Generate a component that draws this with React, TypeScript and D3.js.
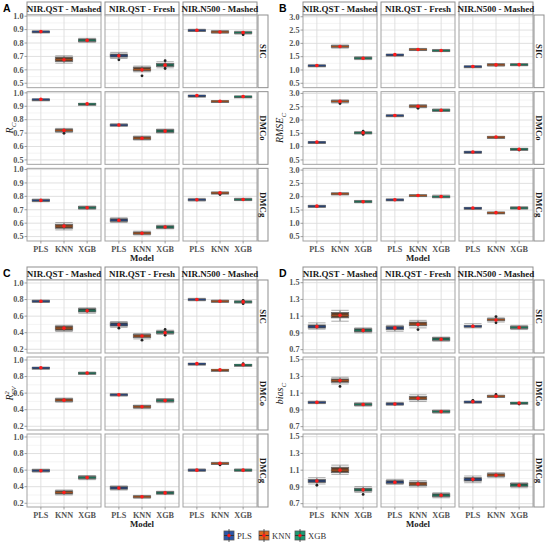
import React from 'react'
import * as d3 from 'd3'

const facets = ['NIR.QST - Mashed', 'NIR.QST - Fresh', 'NIR.N500 - Mashed']
const traits = ['SIC', 'DMCo', 'DMCg']
const models = ['PLS', 'KNN', 'XGB']
const modelColors = ['#2b55a8', '#e0661c', '#1b9a72']

// box stats: [lo, q1, median, q3, hi, mean], ordered trait -> facet -> model
const rcBoxes = [
  [
    [[0.878, 0.881, 0.885, 0.889, 0.892, 0.885], [0.65, 0.662, 0.676, 0.695, 0.705, 0.675], [0.805, 0.81, 0.82, 0.83, 0.835, 0.82]],
    [[0.685, 0.695, 0.705, 0.718, 0.73, 0.705], [0.585, 0.592, 0.602, 0.62, 0.628, 0.6], [0.615, 0.625, 0.637, 0.648, 0.66, 0.635]],
    [[0.888, 0.891, 0.895, 0.9, 0.903, 0.895], [0.872, 0.876, 0.882, 0.89, 0.893, 0.882], [0.866, 0.872, 0.878, 0.884, 0.888, 0.878]],
  ],
  [
    [[0.948, 0.95, 0.952, 0.954, 0.956, 0.952], [0.705, 0.71, 0.72, 0.73, 0.735, 0.72], [0.913, 0.915, 0.918, 0.921, 0.923, 0.918]],
    [[0.752, 0.755, 0.76, 0.766, 0.77, 0.76], [0.648, 0.652, 0.662, 0.673, 0.678, 0.662], [0.7, 0.705, 0.715, 0.726, 0.73, 0.715]],
    [[0.976, 0.978, 0.98, 0.982, 0.984, 0.98], [0.934, 0.936, 0.938, 0.941, 0.943, 0.938], [0.968, 0.97, 0.973, 0.976, 0.978, 0.973]],
  ],
  [
    [[0.76, 0.764, 0.77, 0.776, 0.78, 0.77], [0.55, 0.562, 0.578, 0.592, 0.605, 0.578], [0.703, 0.707, 0.715, 0.724, 0.728, 0.715]],
    [[0.605, 0.612, 0.622, 0.633, 0.64, 0.622], [0.512, 0.517, 0.525, 0.534, 0.54, 0.525], [0.558, 0.562, 0.571, 0.58, 0.585, 0.571]],
    [[0.765, 0.769, 0.775, 0.781, 0.785, 0.775], [0.818, 0.821, 0.826, 0.831, 0.834, 0.826], [0.768, 0.771, 0.776, 0.783, 0.786, 0.776]],
  ],
]
// [trait, facet, model, value]
const rcOutliers = [[0, 1, 0, 0.675], [0, 1, 1, 0.555], [0, 1, 2, 0.61], [0, 1, 2, 0.668], [0, 2, 2, 0.862], [1, 0, 1, 0.698], [2, 2, 1, 0.814]]

const rmseBoxes = [
  [
    [[1.14, 1.155, 1.17, 1.185, 1.2, 1.17], [1.82, 1.85, 1.88, 1.92, 1.94, 1.88], [1.39, 1.41, 1.44, 1.48, 1.5, 1.44]],
    [[1.55, 1.56, 1.575, 1.59, 1.6, 1.575], [1.73, 1.745, 1.77, 1.8, 1.81, 1.77], [1.69, 1.705, 1.73, 1.76, 1.77, 1.73]],
    [[1.11, 1.12, 1.135, 1.15, 1.16, 1.13], [1.14, 1.16, 1.19, 1.23, 1.24, 1.19], [1.16, 1.175, 1.2, 1.23, 1.24, 1.2]],
  ],
  [
    [[1.15, 1.16, 1.17, 1.185, 1.19, 1.17], [2.64, 2.67, 2.7, 2.74, 2.76, 2.7], [1.48, 1.5, 1.52, 1.55, 1.57, 1.52]],
    [[2.15, 2.16, 2.175, 2.19, 2.2, 2.17], [2.46, 2.48, 2.52, 2.56, 2.58, 2.52], [2.32, 2.34, 2.37, 2.4, 2.42, 2.37]],
    [[0.77, 0.785, 0.8, 0.82, 0.83, 0.8], [1.32, 1.335, 1.36, 1.38, 1.39, 1.36], [0.88, 0.895, 0.91, 0.93, 0.94, 0.9]],
  ],
  [
    [[1.61, 1.625, 1.645, 1.67, 1.68, 1.645], [2.07, 2.09, 2.11, 2.14, 2.15, 2.11], [1.77, 1.785, 1.81, 1.85, 1.86, 1.81]],
    [[1.86, 1.87, 1.885, 1.91, 1.92, 1.885], [2.01, 2.025, 2.045, 2.07, 2.08, 2.045], [1.96, 1.98, 2.005, 2.03, 2.06, 2.01]],
    [[1.55, 1.56, 1.575, 1.595, 1.6, 1.575], [1.37, 1.385, 1.4, 1.42, 1.43, 1.4], [1.53, 1.545, 1.57, 1.61, 1.62, 1.57]],
  ],
]
const rmseOutliers = [[1, 0, 1, 2.62], [1, 0, 2, 1.46], [1, 0, 2, 1.58], [1, 1, 1, 2.44], [1, 2, 2, 0.87]]

const r2Boxes = [
  [
    [[0.765, 0.772, 0.78, 0.79, 0.795, 0.78], [0.415, 0.43, 0.455, 0.48, 0.49, 0.455], [0.635, 0.65, 0.665, 0.69, 0.7, 0.665]],
    [[0.465, 0.48, 0.495, 0.52, 0.535, 0.495], [0.325, 0.34, 0.36, 0.38, 0.39, 0.36], [0.38, 0.39, 0.405, 0.42, 0.43, 0.4]],
    [[0.785, 0.792, 0.8, 0.81, 0.815, 0.8], [0.765, 0.771, 0.78, 0.79, 0.795, 0.78], [0.758, 0.764, 0.772, 0.782, 0.787, 0.772]],
  ],
  [
    [[0.9, 0.903, 0.907, 0.911, 0.914, 0.907], [0.49, 0.5, 0.515, 0.532, 0.54, 0.515], [0.83, 0.835, 0.842, 0.85, 0.855, 0.842]],
    [[0.565, 0.572, 0.58, 0.59, 0.595, 0.58], [0.415, 0.422, 0.435, 0.45, 0.455, 0.435], [0.485, 0.495, 0.51, 0.528, 0.535, 0.51]],
    [[0.95, 0.952, 0.956, 0.96, 0.962, 0.956], [0.875, 0.877, 0.881, 0.885, 0.887, 0.881], [0.935, 0.938, 0.942, 0.946, 0.948, 0.942]],
  ],
  [
    [[0.575, 0.582, 0.593, 0.607, 0.612, 0.593], [0.3, 0.312, 0.33, 0.35, 0.36, 0.33], [0.485, 0.495, 0.51, 0.527, 0.535, 0.51]],
    [[0.36, 0.37, 0.385, 0.402, 0.41, 0.385], [0.26, 0.267, 0.278, 0.29, 0.295, 0.278], [0.305, 0.312, 0.325, 0.34, 0.345, 0.325]],
    [[0.585, 0.59, 0.6, 0.61, 0.615, 0.6], [0.67, 0.674, 0.682, 0.69, 0.694, 0.682], [0.585, 0.59, 0.6, 0.61, 0.615, 0.6]],
  ],
]
const r2Outliers = [[0, 1, 0, 0.455], [0, 1, 1, 0.31], [0, 1, 2, 0.37], [0, 1, 2, 0.44], [0, 2, 2, 0.75], [0, 2, 2, 0.79], [1, 2, 2, 0.955], [2, 2, 1, 0.663]]

const biasBoxes = [
  [
    [[0.945, 0.958, 0.975, 0.995, 1.02, 0.975], [1.04, 1.08, 1.11, 1.145, 1.17, 1.11], [0.9, 0.912, 0.93, 0.95, 0.96, 0.93]],
    [[0.92, 0.938, 0.96, 0.98, 0.99, 0.96], [0.96, 0.985, 1.005, 1.03, 1.05, 1.0], [0.8, 0.81, 0.825, 0.843, 0.85, 0.825]],
    [[0.96, 0.97, 0.98, 0.99, 1.01, 0.98], [1.03, 1.045, 1.058, 1.07, 1.08, 1.055], [0.94, 0.95, 0.965, 0.98, 0.99, 0.965]],
  ],
  [
    [[0.975, 0.98, 0.99, 1.0, 1.005, 0.99], [1.21, 1.23, 1.25, 1.27, 1.29, 1.25], [0.945, 0.952, 0.965, 0.98, 0.985, 0.965]],
    [[0.955, 0.96, 0.97, 0.983, 0.99, 0.97], [1.0, 1.02, 1.04, 1.06, 1.08, 1.04], [0.86, 0.868, 0.88, 0.893, 0.9, 0.88]],
    [[0.99, 0.993, 0.998, 1.003, 1.006, 0.998], [1.05, 1.055, 1.063, 1.072, 1.077, 1.063], [0.975, 0.98, 0.985, 0.99, 0.993, 0.982]],
  ],
  [
    [[0.935, 0.952, 0.97, 0.99, 1.01, 0.97], [1.05, 1.07, 1.1, 1.135, 1.16, 1.1], [0.835, 0.85, 0.865, 0.885, 0.905, 0.865]],
    [[0.93, 0.94, 0.955, 0.975, 0.99, 0.955], [0.9, 0.915, 0.935, 0.958, 0.975, 0.935], [0.77, 0.782, 0.8, 0.818, 0.83, 0.8]],
    [[0.95, 0.97, 0.99, 1.01, 1.03, 0.99], [1.01, 1.025, 1.04, 1.058, 1.07, 1.04], [0.89, 0.905, 0.92, 0.94, 0.95, 0.92]],
  ],
]
const biasOutliers = [[0, 1, 1, 0.94], [0, 2, 1, 1.02], [0, 2, 1, 1.095], [1, 0, 1, 1.18], [1, 2, 0, 1.015], [1, 2, 1, 1.085], [1, 2, 2, 0.97], [2, 0, 0, 0.92], [2, 0, 2, 0.81]]

const rcTicks = [0.5, 0.6, 0.7, 0.8, 0.9, 1.0]
const rmseTicks = [0.5, 1.0, 1.5, 2.0, 2.5, 3.0]
const r2Ticks = [0.2, 0.4, 0.6, 0.8, 1.0]
const biasTicks = [0.7, 0.9, 1.1, 1.3, 1.5]

const SERIF = "'Liberation Serif', 'DejaVu Serif', serif"

interface PanelProps {
  label: string
  boxes: number[][][][]
  outliers: number[][]
  domain: [number, number]
  ticks: number[]
  title: React.ReactNode
  titleX: number
  left: number
  right: number
  stripTop: number
  rowsBottom: number
}

const Panel = ({ label, boxes, outliers, domain, ticks, title, titleX, left, right, stripTop, rowsBottom }: PanelProps) => {
  const stripH = 13
  const rowsTop = stripTop + stripH
  const gap = 4
  const rowH = (rowsBottom - rowsTop - 2 * gap) / 3
  const fGap = 4
  const fW = (right - left - 2 * fGap) / 3
  const step = ticks[1] - ticks[0]
  const minors = [ticks[0] - step / 2, ...ticks.map(t => t + step / 2)].filter(v => v > domain[0] && v < domain[1])
  const fmt = d3.format('.1f')

  return (
    <g>
      <text x={left - 24} y={stripTop + 10} fontFamily="Arial, 'Liberation Sans', sans-serif" fontWeight="bold" fontSize={10.5}>{label}</text>
      {facets.map((fn, fi) => {
        const fx0 = left + fi * (fW + fGap)
        return (
          <g key={fn}>
            <rect x={fx0} y={stripTop} width={fW} height={stripH} fill="#fff" stroke="#8f8f8f" strokeWidth={1} />
            <text x={fx0 + fW / 2} y={stripTop + 9.9} textAnchor="middle" fontFamily={SERIF} fontWeight="bold" fontSize={9} fill="#1a1a1a">{fn}</text>
          </g>
        )
      })}
      {traits.map((tn, ti) => {
        const ry0 = rowsTop + ti * (rowH + gap)
        const y = d3.scaleLinear().domain(domain).range([ry0 + rowH, ry0])
        return (
          <g key={tn}>
            {facets.map((fn, fi) => {
              const fx0 = left + fi * (fW + fGap)
              const x = d3.scalePoint<string>().domain(models).range([fx0, fx0 + fW]).padding(0.6)
              const bw = x.step() * 0.75
              return (
                <g key={fn}>
                  <rect x={fx0} y={ry0} width={fW} height={rowH} fill="#fff" />
                  {minors.map(v => (
                    <line key={'m' + v} x1={fx0} x2={fx0 + fW} y1={y(v)} y2={y(v)} stroke="#ededed" strokeWidth={0.6} />
                  ))}
                  {ticks.map(v => (
                    <line key={'t' + v} x1={fx0} x2={fx0 + fW} y1={y(v)} y2={y(v)} stroke="#dcdcdc" strokeWidth={0.9} />
                  ))}
                  {models.map(m => (
                    <line key={'v' + m} x1={x(m)} x2={x(m)} y1={ry0} y2={ry0 + rowH} stroke="#dcdcdc" strokeWidth={0.9} />
                  ))}
                  {models.map((m, mi) => {
                    const [lo, q1, med, q3, hi, mean] = boxes[ti][fi][mi]
                    const cx = x(m) as number
                    const fill = d3.interpolateRgb(modelColors[mi], '#2e2e2e')(0.74)
                    const medColor = d3.interpolateRgb(modelColors[mi], '#262626')(0.35)
                    return (
                      <g key={m}>
                        <line x1={cx} x2={cx} y1={y(lo)} y2={y(hi)} stroke="#444" strokeWidth={0.8} />
                        <line x1={cx - bw / 2} x2={cx + bw / 2} y1={y(lo)} y2={y(lo)} stroke="#a0a0a0" strokeWidth={0.9} />
                        <line x1={cx - bw / 2} x2={cx + bw / 2} y1={y(hi)} y2={y(hi)} stroke="#a0a0a0" strokeWidth={0.9} />
                        <rect x={cx - bw / 2} y={y(q3)} width={bw} height={Math.max(y(q1) - y(q3), 1.8)} fill={fill} stroke="#6a6a6a" strokeWidth={0.8} />
                        <line x1={cx - bw / 2} x2={cx + bw / 2} y1={y(med)} y2={y(med)} stroke={medColor} strokeWidth={1.1} />
                        {outliers.filter(o => o[0] === ti && o[1] === fi && o[2] === mi).map((o, k) => (
                          <circle key={k} cx={cx} cy={y(o[3])} r={1.4} fill="#222" />
                        ))}
                        <circle cx={cx} cy={y(mean)} r={1.8} fill="#ff1a1a" />
                      </g>
                    )
                  })}
                  <rect x={fx0} y={ry0} width={fW} height={rowH} fill="none" stroke="#a3a3a3" strokeWidth={1} />
                </g>
              )
            })}
            {ticks.map(v => (
              <g key={'l' + v}>
                <line x1={left - 2.5} x2={left} y1={y(v)} y2={y(v)} stroke="#888" strokeWidth={0.8} />
                <text x={left - 3.5} y={y(v) + 2.8} textAnchor="end" fontFamily={SERIF} fontWeight="bold" fontSize={8.2} fill="#555">{fmt(v)}</text>
              </g>
            ))}
            <rect x={right + 1} y={ry0} width={10} height={rowH} fill="#fff" stroke="#8f8f8f" strokeWidth={1} />
            <text transform={`translate(${right + 3.2},${ry0 + rowH / 2}) rotate(90)`} textAnchor="middle" fontFamily={SERIF} fontWeight="bold" fontSize={8.8} fill="#1a1a1a">{tn}</text>
          </g>
        )
      })}
      {facets.map((fn, fi) => {
        const fx0 = left + fi * (fW + fGap)
        const x = d3.scalePoint<string>().domain(models).range([fx0, fx0 + fW]).padding(0.6)
        return models.map(m => (
          <g key={fn + m}>
            <line x1={x(m)} x2={x(m)} y1={rowsBottom} y2={rowsBottom + 2.5} stroke="#888" strokeWidth={0.8} />
            <text x={x(m)} y={rowsBottom + 10.5} textAnchor="middle" fontFamily={SERIF} fontWeight="bold" fontSize={8.2} fill="#555">{m}</text>
          </g>
        ))
      })}
      <text x={(left + right) / 2} y={rowsBottom + 19.5} textAnchor="middle" fontFamily={SERIF} fontWeight="bold" fontSize={8.8} fill="#1a1a1a">Model</text>
      <text transform={`translate(${titleX},${(rowsTop + rowsBottom) / 2}) rotate(-90)`} textAnchor="middle" fontFamily={SERIF} fontStyle="italic" fontSize={10} fill="#1a1a1a">{title}</text>
    </g>
  )
}

const Legend = () => {
  const xs = [224, 259, 295]
  return (
    <g>
      {models.map((m, i) => (
        <g key={m}>
          <rect x={xs[i]} y={531} width={10} height={9} fill={modelColors[i]} stroke="#555" strokeWidth={0.8} />
          <line x1={xs[i]} x2={xs[i] + 10} y1={535.5} y2={535.5} stroke="#333" strokeWidth={1} />
          <line x1={xs[i] + 5} x2={xs[i] + 5} y1={529} y2={542} stroke="#333" strokeWidth={0.8} />
          <circle cx={xs[i] + 5} cy={535.5} r={1.7} fill="#ff1a1a" />
          <text x={xs[i] + 13} y={538.5} fontFamily={SERIF} fontSize={8.6} fill="#333">{m}</text>
        </g>
      ))}
    </g>
  )
}

export default function App() {
  return (
    <div style={{ position: 'absolute', left: 0, top: 0 }}>
      <svg width={546} height={543} style={{ display: 'block', background: '#fff' }}>
        <Panel label="A" boxes={rcBoxes} outliers={rcOutliers} domain={[0.467, 1.009]} ticks={rcTicks}
          title={<><tspan>R</tspan><tspan fontSize={7} dy={2.5}>C</tspan></>} titleX={13}
          left={27} right={257} stripTop={2} rowsBottom={241} />
        <Panel label="B" boxes={rmseBoxes} outliers={rmseOutliers} domain={[0.335, 3.066]} ticks={rmseTicks}
          title={<><tspan>RMSE</tspan><tspan fontSize={7} dy={2.5}>C</tspan></>} titleX={283}
          left={303} right={533} stripTop={2} rowsBottom={241} />
        <Panel label="C" boxes={r2Boxes} outliers={r2Outliers} domain={[0.155, 1.036]} ticks={r2Ticks}
          title={<><tspan>R</tspan><tspan fontSize={6.5} dy={-4}>2</tspan><tspan fontSize={6.5} dx={-3.6} dy={7}>CV</tspan></>} titleX={13}
          left={27} right={257} stripTop={267} rowsBottom={507} />
        <Panel label="D" boxes={biasBoxes} outliers={biasOutliers} domain={[0.66, 1.532]} ticks={biasTicks}
          title={<><tspan>bias</tspan><tspan fontSize={7} dy={2.5}>C</tspan></>} titleX={283}
          left={303} right={533} stripTop={267} rowsBottom={507} />
        <Legend />
      </svg>
    </div>
  )
}
